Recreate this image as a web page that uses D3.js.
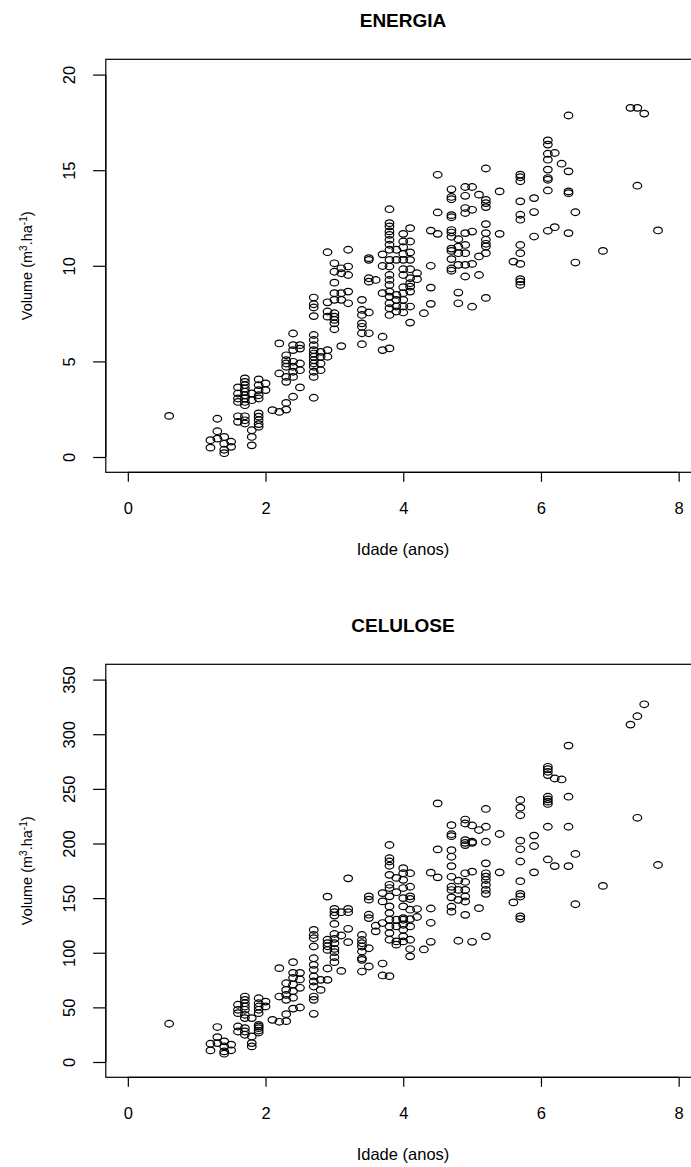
<!DOCTYPE html>
<html>
<head>
<meta charset="utf-8">
<script src="https://cdn.jsdelivr.net/npm/d3@7"></script>
<style>
  body { margin: 0; background: #fff; }
  svg text { font-family: "Liberation Sans", Arial, sans-serif; fill: #000; }
</style>
</head>
<body>
<script>
// ages (anos) shared by both stands
const idades = [0.6, 1.2, 1.3, 1.4, 1.5, 1.6, 1.7, 1.8, 1.9, 2.0, 2.1, 2.2, 2.3, 2.4, 2.5, 2.7, 2.8, 2.9,
  3.0, 3.1, 3.2, 3.4, 3.5, 3.6, 3.7, 3.8, 3.9, 4.0, 4.1, 4.2, 4.3, 4.4, 4.5, 4.7, 4.8, 4.9, 5.0, 5.1,
  5.2, 5.4, 5.6, 5.7, 5.9, 6.1, 6.2, 6.3, 6.4, 6.5, 6.9, 7.3, 7.4, 7.5, 7.7];

// volumes (m3/ha) at each age, ENERGIA
const energia = [
  [2.15], [0.88, 0.49], [2.0, 1.35, 0.96], [1.05, 0.69, 0.38, 0.2], [0.8, 0.53],
  [3.64, 3.32, 3.06, 2.88, 2.13, 1.84],
  [4.11, 3.93, 3.76, 3.58, 3.41, 3.23, 3.06, 2.88, 2.71, 2.13, 1.92, 1.75],
  [3.32, 2.97, 1.4, 1.05, 0.61],
  [4.06, 3.76, 3.5, 3.23, 3.06, 2.28, 2.11, 1.93, 1.72, 1.58],
  [3.85, 3.5], [2.45], [5.94, 4.37, 2.36],
  [5.32, 5.06, 4.89, 4.72, 4.19, 3.93, 2.83, 2.48],
  [6.46, 5.85, 5.59, 4.98, 4.72, 4.46, 4.19, 3.15],
  [5.85, 5.67, 4.89, 4.54, 3.64],
  [8.34, 7.99, 7.82, 7.37, 6.38, 6.12, 5.85, 5.59, 5.41, 5.24, 5.06, 4.89, 4.72, 4.46, 4.19, 3.1],
  [5.5, 5.24, 4.89, 4.54],
  [10.71, 8.09, 7.61, 7.34, 5.59, 5.24],
  [10.13, 9.69, 9.12, 8.57, 8.22, 7.52, 7.34, 7.17, 6.99, 6.68],
  [9.87, 9.61, 8.57, 8.22, 5.8],
  [10.84, 9.96, 9.52, 8.65, 8.04],
  [8.22, 7.69, 7.43, 6.99, 6.81, 6.47, 5.9],
  [10.4, 10.31, 9.35, 9.17, 7.56, 6.47],
  [9.26],
  [10.6, 9.99, 8.57, 6.29, 5.59],
  [12.96, 12.23, 12.06, 11.8, 11.62, 11.36, 11.1, 10.84, 10.31, 9.96, 9.52, 9.26, 9.0, 8.65, 8.39, 8.04, 7.78, 7.43, 5.68],
  [10.84, 10.31, 8.48, 8.22, 7.87, 7.61],
  [11.67, 11.27, 10.97, 10.62, 10.31, 9.82, 9.52, 8.88, 8.57, 8.22, 7.87, 7.56],
  [11.97, 11.27, 10.7, 10.31, 9.82, 9.35, 9.09, 8.91, 8.65, 7.87, 7.03],
  [9.61, 9.3], [7.52], [11.84, 10.0, 8.86, 8.01], [14.76, 12.79, 11.67],
  [14.0, 13.6, 13.48, 12.65, 12.54, 11.87, 11.74, 11.52, 10.9, 10.78, 10.35, 9.86, 9.74],
  [11.39, 11.0, 10.66, 10.05, 8.6, 8.04],
  [14.12, 13.66, 13.02, 12.76, 11.71, 11.09, 10.66, 10.05, 9.44],
  [14.12, 12.93, 11.79, 10.1, 7.86],
  [13.72, 10.49, 9.52],
  [15.09, 13.45, 13.28, 13.07, 12.18, 11.71, 11.36, 11.15, 11.01, 10.66, 8.32],
  [13.89, 11.67], [10.22],
  [14.77, 14.63, 14.42, 13.37, 12.67, 12.41, 11.09, 10.66, 10.1, 9.3, 9.17, 9.0],
  [13.54, 12.81, 11.53],
  [16.56, 16.34, 15.86, 15.55, 15.03, 14.59, 14.5, 13.94, 11.83],
  [15.9, 12.02], [15.34], [17.86, 14.94, 13.89, 13.8, 11.71], [12.8, 10.17],
  [10.78], [18.26], [18.26, 14.19], [17.96], [11.85]
];

// volumes (m3/ha) at each age, CELULOSE
const celulose = [
  [35.0], [16.7, 10.6], [32.0, 22.8, 17.3], [18.9, 14.3, 9.7, 7.6], [15.9, 10.7],
  [52.4, 47.8, 44.7, 32.5, 27.9],
  [59.9, 56.9, 53.8, 50.8, 47.8, 43.2, 40.2, 31.0, 27.9, 24.9],
  [40.2, 23.4, 17.3, 14.3],
  [58.4, 53.8, 50.8, 47.8, 44.7, 34.0, 32.5, 31.0, 28.8, 27.0],
  [55.3, 50.8], [38.6], [85.9, 59.9, 36.8],
  [72.1, 66.0, 61.4, 56.9, 43.8, 37.4],
  [91.4, 81.6, 77.0, 70.9, 64.9, 58.8, 48.9],
  [81.6, 75.5, 67.9, 49.9],
  [120.9, 116.3, 113.3, 105.7, 95.0, 88.9, 84.4, 78.3, 73.7, 69.1, 59.9, 56.9, 44.1],
  [75.2, 66.0],
  [151.4, 111.9, 108.7, 105.9, 102.6, 85.6, 75.2],
  [140.1, 137.1, 134.0, 126.4, 117.2, 112.7, 108.7, 103.5, 100.5, 95.9, 91.4],
  [137.1, 115.8, 83.4],
  [168.1, 140.1, 137.1, 121.9, 109.7],
  [116.3, 111.7, 108.7, 105.7, 101.1, 95.0, 93.5, 82.8],
  [151.6, 148.6, 134.8, 131.7, 104.1, 87.4],
  [124.7, 119.6],
  [154.6, 147.0, 127.2, 90.1, 79.2],
  [198.6, 186.5, 183.5, 179.6, 171.3, 162.2, 159.2, 151.6, 142.4, 136.3, 130.2, 124.1, 118.0, 111.9, 78.6],
  [168.5, 155.4, 130.2, 124.1, 110.4, 107.4],
  [177.4, 172.8, 166.7, 159.2, 150.0, 142.4, 131.7, 130.2, 125.6, 121.0, 115.0, 110.4],
  [172.8, 160.4, 151.6, 149.2, 139.4, 130.8, 124.1, 111.9, 103.4, 96.7],
  [140.0, 132.7], [103.0], [173.3, 140.5, 127.4, 110.0], [236.7, 194.6, 169.0],
  [216.8, 208.5, 206.7, 193.9, 187.8, 179.3, 169.5, 160.4, 157.4, 150.7, 142.1, 137.6],
  [166.0, 157.5, 148.4, 111.0],
  [221.9, 218.3, 203.1, 200.6, 198.5, 172.7, 164.8, 157.5, 151.5, 146.9, 134.7],
  [216.5, 201.6, 200.6, 174.2, 110.0],
  [212.3, 140.8],
  [231.6, 215.3, 201.6, 181.8, 172.7, 169.7, 166.6, 162.1, 157.5, 153.9, 115.0],
  [208.7, 173.6], [146.1],
  [239.8, 232.8, 225.8, 202.6, 194.7, 183.5, 165.5, 153.9, 151.5, 133.3, 131.0],
  [207.2, 197.7, 173.6],
  [270.2, 268.1, 265.6, 262.6, 242.8, 240.4, 238.3, 236.2, 215.3, 185.4],
  [259.5, 179.3], [258.6], [289.6, 242.8, 215.3, 179.3], [190.4, 144.4],
  [161.2], [308.8], [316.5, 223.5], [327.4], [180.3]
];

const xTicks = [0, 2, 4, 6, 8];
const energiaTicks = [0, 5, 10, 15, 20];
const celuloseTicks = [0, 50, 100, 150, 200, 250, 300, 350];

const width = 691, height = 1167;

const svg = d3.select("body")
  .append("svg")
  .attr("width", width)
  .attr("height", height);

svg.append("rect").attr("width", width).attr("height", height).attr("fill", "#fff");

const x = d3.scaleLinear().domain([-0.32, 8.32]).range([105.8, 700.7]);

function flatten(vols) {
  const pts = [];
  idades.forEach((a, i) => vols[i].forEach(v => pts.push([a, v])));
  return pts;
}

function panel(off, title, yTicks, vols) {
  const yMax = yTicks[yTicks.length - 1];
  const y = d3.scaleLinear()
    .domain([-0.04 * yMax, 1.04 * yMax])
    .range([472.3 + off, 59.3 + off]);
  const midY = (y.range()[0] + y.range()[1]) / 2;

  const g = svg.append("g");

  // title
  g.append("text")
    .attr("x", 403)
    .attr("y", off + 27)
    .attr("text-anchor", "middle")
    .attr("font-weight", "bold")
    .style("font-size", "19px")
    .text(title);

  // box
  g.append("rect")
    .attr("x", x.range()[0])
    .attr("y", y.range()[1])
    .attr("width", x.range()[1] - x.range()[0])
    .attr("height", y.range()[0] - y.range()[1])
    .attr("fill", "none")
    .attr("stroke", "#000")
    .attr("stroke-width", 1.2);

  // x axis
  const xa = g.append("g")
    .attr("transform", `translate(0,${y.range()[0]})`)
    .call(d3.axisBottom(x).tickValues(xTicks).tickSize(9.5).tickSizeOuter(0).tickFormat(d3.format("d")));
  xa.select(".domain").remove();
  xa.append("line")
    .attr("x1", x(xTicks[0])).attr("x2", x(xTicks[xTicks.length - 1]))
    .attr("stroke", "#000").attr("stroke-width", 1.2);
  xa.selectAll(".tick line").attr("stroke", "#000").attr("stroke-width", 1.2);
  xa.selectAll(".tick text")
    .attr("dy", null)
    .attr("y", 41.7)
    .style("font-size", "16.5px")
    .attr("font-family", null);

  // y axis
  const ya = g.append("g")
    .attr("transform", `translate(${x.range()[0]},0)`)
    .call(d3.axisLeft(y).tickValues(yTicks).tickSize(12.7).tickSizeOuter(0).tickFormat(d3.format("d")));
  ya.select(".domain").remove();
  ya.append("line")
    .attr("y1", y(yTicks[0])).attr("y2", y(yMax))
    .attr("stroke", "#000").attr("stroke-width", 1.2);
  ya.selectAll(".tick line").attr("stroke", "#000").attr("stroke-width", 1.2);
  ya.selectAll(".tick text")
    .attr("x", null).attr("dy", null)
    .attr("text-anchor", "middle")
    .attr("transform", "translate(-31,0) rotate(-90)")
    .style("font-size", "16.5px")
    .attr("font-family", null);

  // axis labels
  g.append("text")
    .attr("x", 403)
    .attr("y", off + 555)
    .attr("text-anchor", "middle")
    .style("font-size", "16.5px")
    .text("Idade (anos)");

  const yl = g.append("text")
    .attr("transform", `translate(32,${midY}) rotate(-90)`)
    .attr("text-anchor", "middle")
    .style("font-size", "14.5px");
  yl.append("tspan").text("Volume (m");
  yl.append("tspan").attr("dy", -5).style("font-size", "10px").text("3");
  yl.append("tspan").attr("dy", 5).text(".ha");
  yl.append("tspan").attr("dy", -5).style("font-size", "10px").text("-1");
  yl.append("tspan").attr("dy", 5).text(")");

  // points
  g.append("g")
    .selectAll("ellipse")
    .data(flatten(vols))
    .join("ellipse")
    .attr("cx", d => x(d[0]))
    .attr("cy", d => y(d[1]))
    .attr("rx", 4.3)
    .attr("ry", 3.3)
    .attr("fill", "none")
    .attr("stroke", "#000")
    .attr("stroke-width", 1.2);
}

panel(0, "ENERGIA", energiaTicks, energia);
panel(605, "CELULOSE", celuloseTicks, celulose);
</script>
</body>
</html>
